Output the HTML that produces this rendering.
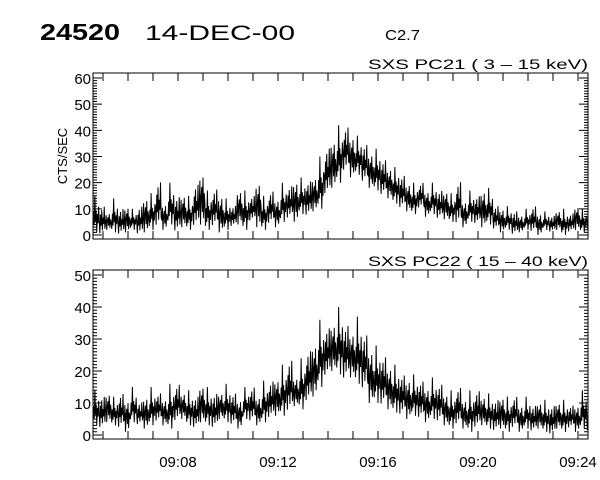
<!DOCTYPE html>
<html><head><meta charset="utf-8"><style>
html,body{margin:0;padding:0;background:#fff;width:600px;height:480px;overflow:hidden}
svg{display:block;font-family:"Liberation Sans",sans-serif}
</style></head><body>
<svg id="chart" width="600" height="480" viewBox="0 0 600 480">
<text x="40" y="40" font-size="23" font-weight="bold" textLength="80" lengthAdjust="spacingAndGlyphs">24520</text>
<text x="145" y="40" font-size="21" textLength="150" lengthAdjust="spacingAndGlyphs">14-DEC-00</text>
<text x="385" y="40" font-size="15" textLength="35" lengthAdjust="spacingAndGlyphs">C2.7</text>
<text x="67" y="156" font-size="13" text-anchor="middle" transform="rotate(-90 67 156)">CTS/SEC</text>
<g id="p1"></g>
<g id="p2"></g>
</svg>
<script>
const xTickLabels = ["09:08","09:12","09:16","09:20","09:24"];
const xTickMinutes = [8,12,16,20,24];
const p1Ticks = [0,10,20,30,40,50,60];
const p2Ticks = [0,10,20,30,40,50];
const binStart = 4.6, binWidth = 0.25;
const p1Lo = [1,0,2,1,0,1,2,0,1, 2,3,2,4,1,3,2,3,4,2,3,1, 2,3,4,2,5,3,2,4,3,5, 6,5,8,7,9,10, 15,18,20,24,22,23, 20,18,17,15,14,12, 10,9,8,10,7,8,6,6, 5,4,3,5,4,3,4,2, 1,2,0,1,2,1,0,2,1,2,0,1,2,1,2];
const p1Hi = [15,12,10,14,11,13,10,12,17, 16,22,14,20,16,18,15,21,28,17,19,18, 14,12,20,17,16,24,15,18,16,20, 20,24,22,22,25,30, 35,40,42,43,41,38, 36,34,33,30,28,26, 24,22,20,21,19,20,18,19, 16,22,15,17,16,20,18,12, 12,11,10,9,10,12,10,9,8,11,10,9,13,10,11];
const p2Lo = [3,2,4,3,2,1,4,3,2,3,4,3,2,4,5,3,2,4,3,2,5,4,3,2,5,4,3,4,5,6, 6,7,9,8,10,12, 15,18,20,19,17,18,16,14, 10,10,9,8,7,6,5,6,5,4,5,4, 3,2,3,2,1,2,3,2,1,2,1,2,1,2,1,2,1,0,2,1,2,1,2,1];
const p2Hi = [14,13,15,12,14,13,15,11,14,15,14,13,16,17,15,14,13,18,15,14,15,16,14,13,15,16,14,17,18,20, 22,25,20,24,28,32, 36,35,38,40,36,35,37,33, 30,28,26,24,22,20,20,19,18,17,18,17, 15,14,16,13,14,15,14,13,12,14,12,13,11,12,10,12,11,10,12,11,10,11,14,12];

const NS="http://www.w3.org/2000/svg";
const x0=93,x1=588;
const patterns=[[0.1,0.55,0.2,1,0.3,0.6,0,0.5,0.25,0.7],[0.4,0.05,0.65,0.3,0.8,0.15,0.55,0.35,0.9,0.2],[0.3,0.7,0,0.45,0.6,0.2,0.75,0.1,0.5,0.35]];
function xScale(m){return 93+(m-4.6)*25;}
function mk(tag,attrs,parent){const e=document.createElementNS(NS,tag);for(const k in attrs)e.setAttribute(k,attrs[k]);parent.appendChild(e);return e;}

function panel(g,top,bot,ymax,ticks,lo,hi,title,showX){
  const yScale=v=>bot-4-(v/ymax)*(bot-top-9);
  let d="";
  for(let i=0;i<lo.length;i++){
    const xa=xScale(binStart+i*binWidth);
    const w=binWidth*25;
    const pat=patterns[i%3];
    pat.forEach((f,j)=>{
      const X=Math.min(x1,xa+w*j/pat.length).toFixed(2);
      const Y=yScale(lo[i]+(hi[i]-lo[i])*f).toFixed(1);
      d+=(d?"L":"M")+X+" "+Y;
    });
  }
  const path=mk("path",{d:d,fill:"none",stroke:"#000","stroke-width":"1"},g);
  
  
  const frame=mk("rect",{x:x0,y:top,width:x1-x0,height:bot-top,fill:"none",stroke:"#000","stroke-width":"1"},g);
  
  
  let md="";
  for(let v=0;v<=ymax;v++){const y=yScale(v);const L=(v%10===0)?9:4;md+=`M${x0} ${y}h${L}M${x1} ${y}h${-L}`;}
  for(let m=5;m<=24;m++){const x=xScale(m);md+=`M${x} ${bot}v-8M${x} ${top}v8`;}
  const tk=mk("path",{d:md,stroke:"#000","stroke-width":"1"},g);
  
  
  ticks.forEach(v=>{
    const t=mk("text",{x:x0-2,y:yScale(v)+6,"font-size":"15","text-anchor":"end"},g);
    t.textContent=v;
    
    
  });
  const tt=mk("text",{x:368,y:top-4,"font-size":"14",textLength:"220",lengthAdjust:"spacingAndGlyphs"},g);
  tt.textContent=title;
  
  
  if(showX){xTickLabels.forEach((s,i)=>{
    const t=mk("text",{x:xScale(xTickMinutes[i]),y:bot+28,"font-size":"15","text-anchor":"middle"},g);
    t.textContent=s;
    
    
  });}
}
panel(document.getElementById("p1"),73,239,60,p1Ticks,p1Lo,p1Hi,"SXS PC21  (  3 \u2013 15 keV)",false);
panel(document.getElementById("p2"),270,439,50,p2Ticks,p2Lo,p2Hi,"SXS PC22  ( 15 \u2013 40 keV)",true);
</script>
</body></html>
